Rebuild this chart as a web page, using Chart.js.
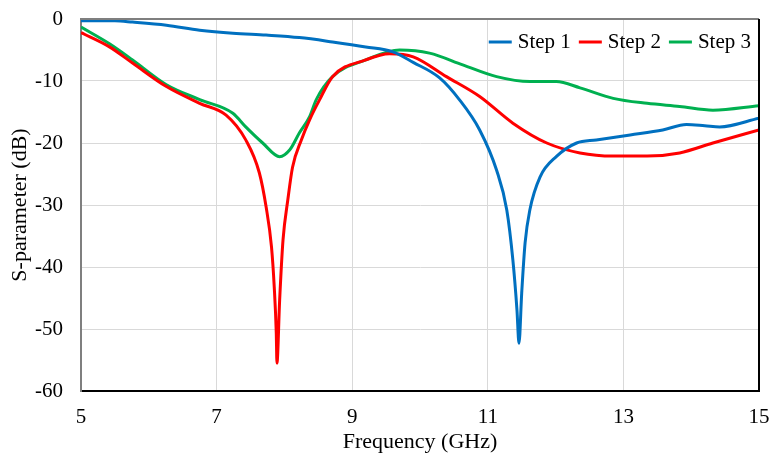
<!DOCTYPE html>
<html>
<head>
<meta charset="utf-8">
<script src="https://cdn.jsdelivr.net/npm/chart.js@4.4.1/dist/chart.umd.min.js"></script>
<style>
  html, body { margin: 0; padding: 0; background: #fff; }
  #wrap { width: 773px; height: 459px; }
</style>
</head>
<body>
<div id="wrap"><canvas id="sparamChart"></canvas></div>
<script>
// Step 1 (blue)
const freq1 = [5, 5.5, 5.76, 6.26, 6.75, 7.24, 7.73, 8.22, 8.71, 9.2, 9.6, 9.9, 10.29, 10.58, 10.88, 11.13, 11.28, 11.37, 11.43, 11.46, 11.5, 11.55, 11.62, 11.77, 12.01, 12.31, 12.6, 13.1, 13.58, 13.93, 14.2, 14.42, 15];
const step1 = [-0.3, -0.3, -0.5, -1.0, -1.8, -2.3, -2.6, -3.0, -3.7, -4.5, -5.3, -7.0, -9.5, -13, -17.9, -24.4, -30.8, -38.9, -46.9, -52.3, -44.2, -36.1, -30.8, -25.5, -22.2, -20, -19.5, -18.7, -17.9, -17.0, -17.2, -17.4, -16.0];

// Step 2 (red)
const freq2 = [5, 5.42, 5.76, 6.26, 6.75, 7.14, 7.43, 7.63, 7.73, 7.81, 7.85, 7.88, 7.89, 7.93, 7.98, 8.05, 8.12, 8.25, 8.37, 8.52, 8.71, 9.2, 9.55, 9.9, 10.39, 10.88, 11.37, 11.87, 12.36, 12.85, 13.35, 13.83, 14.32, 15];
const step2 = [-2.2, -4.5, -7.1, -10.9, -13.6, -15.5, -19.5, -24.8, -30.3, -36.8, -43.2, -50.6, -55.5, -45.3, -35.6, -29.2, -23.9, -19.5, -16.3, -13.0, -9.3, -6.6, -5.6, -6.1, -9.3, -12.5, -16.8, -20.0, -21.6, -22.1, -22.1, -21.6, -20.0, -17.9];

// Step 3 (green)
const freq3 = [5, 5.42, 5.76, 6.26, 6.75, 7.24, 7.43, 7.68, 7.93, 8.08, 8.22, 8.37, 8.47, 8.71, 9.2, 9.7, 10.14, 10.63, 11.13, 11.62, 12.01, 12.36, 12.85, 13.35, 13.83, 14.32, 15];
const step3 = [-1.3, -4.0, -6.6, -10.6, -13.0, -15.2, -17.4, -20.0, -22.2, -21.1, -18.4, -15.8, -13.0, -9.3, -6.6, -5.0, -5.5, -7.4, -9.3, -10.1, -10.1, -11.1, -12.8, -13.6, -14.1, -14.7, -14.0];

const labels = ['Step 1', 'Step 2', 'Step 3'];
const colors = ['#0070C0', '#FF0000', '#00B050'];

const xTicks = [5, 7, 9, 11, 13, 15];

const FONT = "'Liberation Serif', 'Times New Roman', serif";

function pts(xs, ys) {
  return xs.map((x, i) => ({ x: x, y: ys[i] }));
}

// legend drawn inside the plot, top right
const insideLegend = {
  id: 'insideLegend',
  afterDraw(chart) {
    const ctx = chart.ctx;
    const area = chart.chartArea;
    ctx.save();
    ctx.font = '21px ' + FONT;
    ctx.textBaseline = 'middle';
    const y = area.top + 23;
    let widths = chart.data.datasets.map(ds => ctx.measureText(ds.label).width);
    const lineW = 23, gap1 = 6, gap2 = 8;
    let total = 0;
    widths.forEach(w => total += lineW + gap1 + w);
    total += gap2 * (widths.length - 1);
    let x = area.right - 8 - total;
    chart.data.datasets.forEach((ds, i) => {
      ctx.strokeStyle = ds.borderColor;
      ctx.lineWidth = 3;
      ctx.beginPath();
      ctx.moveTo(x, y);
      ctx.lineTo(x + lineW, y);
      ctx.stroke();
      x += lineW + gap1;
      ctx.fillStyle = '#000';
      ctx.fillText(ds.label, x, y);
      x += widths[i] + gap2;
    });
    ctx.restore();
  }
};

// top and right edges of the plot frame
const frame = {
  id: 'frame',
  afterDatasetsDraw(chart) {
    const ctx = chart.ctx;
    const a = chart.chartArea;
    ctx.save();
    ctx.lineWidth = 2;
    ctx.strokeStyle = '#7f7f7f';
    ctx.beginPath();
    ctx.moveTo(a.left, a.top);
    ctx.lineTo(a.right, a.top);
    ctx.stroke();
    ctx.strokeStyle = '#000';
    ctx.beginPath();
    ctx.moveTo(a.right, a.top);
    ctx.lineTo(a.right, a.bottom);
    ctx.stroke();
    ctx.restore();
  }
};

const data = {
  datasets: [
    { label: labels[0], data: pts(freq1, step1), borderColor: colors[0] },
    { label: labels[1], data: pts(freq2, step2), borderColor: colors[1] },
    { label: labels[2], data: pts(freq3, step3), borderColor: colors[2] }
  ]
};

data.datasets.forEach(ds => {
  ds.borderWidth = 3;
  ds.pointRadius = 0;
  ds.fill = false;
  ds.cubicInterpolationMode = 'monotone';
});

const config = {
  type: 'line',
  data: data,
  options: {
    responsive: true,
    maintainAspectRatio: false,
    animation: false,
    layout: { padding: { top: 19, right: 14, left: 0, bottom: 0 } },
    plugins: {
      legend: { display: false },
      tooltip: { enabled: false }
    },
    scales: {
      x: {
        type: 'linear',
        min: 5,
        max: 15,
        afterBuildTicks(scale) {
          scale.ticks = xTicks.map(v => ({ value: v }));
        },
        afterFit(scale) {
          scale.height = 68;
          scale.paddingLeft = 0;
          scale.paddingRight = 0;
        },
        grid: { color: '#d9d9d9', lineWidth: 1, drawTicks: false },
        border: { color: '#000', width: 2 },
        ticks: { color: '#000', font: { family: FONT, size: 21 }, padding: 14 },
        title: {
          display: true,
          text: 'Frequency (GHz)',
          color: '#000',
          font: { family: FONT, size: 22 },
          padding: { top: 2, bottom: 4 }
        }
      },
      y: {
        min: -60,
        max: 0,
        afterFit(scale) {
          scale.width = 81;
          scale.paddingTop = 0;
          scale.paddingBottom = 0;
        },
        grid: { color: '#d9d9d9', lineWidth: 1, drawTicks: false },
        border: { color: '#7f7f7f', width: 2 },
        ticks: { color: '#000', stepSize: 10, font: { family: FONT, size: 21 }, padding: 18 },
        title: {
          display: true,
          text: 'S-parameter (dB)',
          color: '#000',
          font: { family: FONT, size: 22 },
          padding: { top: 7, bottom: 4 }
        }
      }
    }
  },
  plugins: [insideLegend, frame]
};

const myChart = new Chart(document.getElementById('sparamChart'), config);
</script>
</body>
</html>
